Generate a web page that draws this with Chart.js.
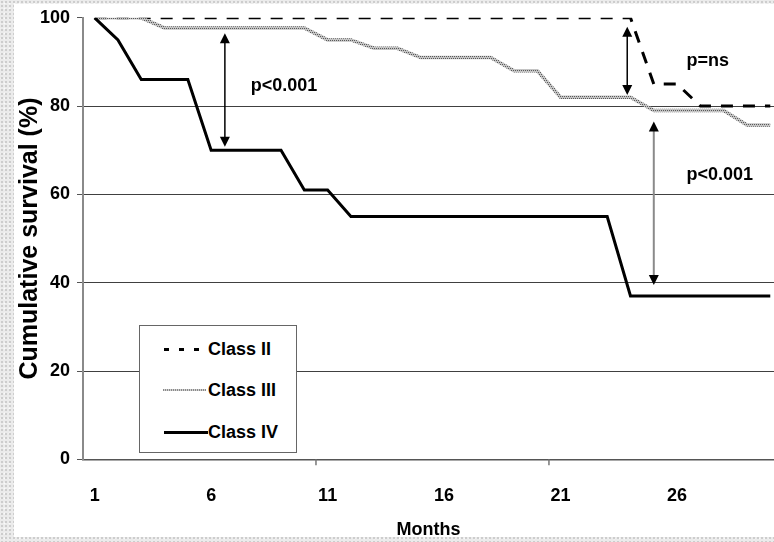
<!DOCTYPE html>
<html><head><meta charset="utf-8">
<script src="https://cdn.jsdelivr.net/npm/chart.js@4"></script>
<style>
html,body{margin:0;padding:0;width:774px;height:542px;overflow:hidden;}
body{background-color:#ebebeb;background-image:radial-gradient(#cdcdcd 0.8px, transparent 1.1px),radial-gradient(#fafafa 0.8px, transparent 1.1px);background-size:4px 4px,5px 5px;background-position:0 0,2px 1px;}
#wrap{position:relative;width:774px;height:542px;}
#chart{position:absolute;left:0;top:0;}
#legend{position:absolute;left:139px;top:325px;width:158px;height:128px;border:1px solid #666;background:#fff;box-sizing:border-box;font:bold 18px "Liberation Sans",Arial,sans-serif;color:#000;}
.sample{position:absolute;}
.label{position:absolute;left:68px;white-space:nowrap;line-height:20px;height:20px;}
</style></head>
<body>
<div id="wrap">
<canvas id="chart" width="774" height="542"></canvas>
<div id="legend"></div>
</div>
<script>
// ---- data ----
const months = [1,2,3,4,5,6,7,8,9,10,11,12,13,14,15,16,17,18,19,20,21,22,23,24,25,26,27,28,29,30];
const classII  = [100,100,100,100,100,100,100,100,100,100,100,100,100,100,100,100,100,100,100,100,100,100,100,100,85,85,80,80,80,80];
const classIII = [100,100,100,97.7,97.7,97.7,97.7,97.7,97.7,97.7,95,95,93.1,93.1,91,91,91,91,88,88,82,82,82,82,79,79,79,79,75.7,75.7];
const classIV  = [100,95,86,86,86,70,70,70,70,61,61,55,55,55,55,55,55,55,55,55,55,55,55,37,37,37,37,37,37,37];
const seriesNames = ['Class II','Class III','Class IV'];
const xTickLabels = [1,6,11,16,21,26];
const yTickValues = [0,20,40,60,80,100];
// annotations (data units)
const arrowMonths = [6.59, 23.86, 25.0];
const arrowFrom   = [96.5, 98.0, 76.5];
const arrowTo     = [70.8, 82.5, 39.5];
const noteTexts   = ['p<0.001','p=ns','p<0.001'];
const noteMonths  = [7.7, 26.4, 26.4];
const noteValues  = [84.6, 90.1, 64.4];

const FONT = '"Liberation Sans", Arial, sans-serif';
Chart.defaults.font.family = FONT;
Chart.defaults.color = '#000';

// textured gray pattern for class III
function makePattern(){
  const p = document.createElement('canvas'); p.width = 4; p.height = 4;
  const c = p.getContext('2d');
  c.fillStyle = '#c4c4c4'; c.fillRect(0,0,4,4);
  c.fillStyle = '#5a5a5a';
  c.fillRect(0,0,1,1); c.fillRect(2,0,1,1); c.fillRect(1,2,1,1); c.fillRect(3,2,1,1);
  return document.getElementById('chart').getContext('2d').createPattern(p,'repeat');
}
const pat = makePattern();

const toXY = arr => months.map((m,i)=>({x:m, y:arr[i]}));

const annot = {
  id:'annot',
  beforeDraw(chart){
    const c = chart.ctx; c.save(); c.fillStyle = '#fff'; c.fillRect(14,4,760,533); c.restore();
  },
  afterDraw(chart){
    const {ctx, scales:{x, y}} = chart;
    ctx.save();
    // x-axis tick marks every 10 categories (between categories)
    ctx.strokeStyle = '#777'; ctx.lineWidth = 1.5;
    [10.5, 20.5].forEach(v=>{
      const px = x.getPixelForValue(v);
      ctx.beginPath(); ctx.moveTo(px, y.bottom); ctx.lineTo(px, y.bottom+6); ctx.stroke();
    });
    // arrows
    arrowMonths.forEach((m,i)=>{
      const px = x.getPixelForValue(m);
      const y1 = y.getPixelForValue(arrowFrom[i]);
      const y2 = y.getPixelForValue(arrowTo[i]);
      const shaft = i===2 ? '#8a8a8a' : '#000';
      const head = 10, hw = 5;
      ctx.strokeStyle = shaft; ctx.lineWidth = i===2 ? 2 : 1.5;
      ctx.beginPath(); ctx.moveTo(px, y1+head-1); ctx.lineTo(px, y2-head+1); ctx.stroke();
      ctx.fillStyle = '#000';
      ctx.beginPath(); ctx.moveTo(px, y1); ctx.lineTo(px-hw, y1+head); ctx.lineTo(px+hw, y1+head); ctx.closePath(); ctx.fill();
      ctx.beginPath(); ctx.moveTo(px, y2); ctx.lineTo(px-hw, y2-head); ctx.lineTo(px+hw, y2-head); ctx.closePath(); ctx.fill();
    });
    // notes
    ctx.fillStyle = '#000'; ctx.font = 'bold 18px ' + FONT; ctx.textBaseline = 'middle'; ctx.textAlign = 'left';
    noteTexts.forEach((t,i)=>{
      ctx.fillText(t, x.getPixelForValue(noteMonths[i]), y.getPixelForValue(noteValues[i]));
    });
    ctx.restore();
  }
};

new Chart(document.getElementById('chart'), {
  type:'line',
  data:{
    datasets:[
      {label:seriesNames[0], data:toXY(classII), borderColor:'#000', borderWidth:3, borderDash:[12,10], order:2},
      {label:seriesNames[1], data:toXY(classIII), borderColor:pat, borderWidth:3.5, order:1},
      {label:seriesNames[2], data:toXY(classIV), borderColor:'#000', borderWidth:3, order:0}
    ]
  },
  options:{
    responsive:false, animation:false, devicePixelRatio:1,
    layout:{padding:{top:17.7, left:0, right:0, bottom:0}},
    elements:{point:{radius:0, hoverRadius:0}, line:{tension:0, borderCapStyle:'butt', borderJoinStyle:'miter'}},
    plugins:{legend:{display:false}, tooltip:{enabled:false}},
    events:[],
    scales:{
      x:{
        type:'linear', min:0.5, max:30.16,
        afterFit(s){ s.height = 82.7; },
        afterBuildTicks(s){ s.ticks = xTickLabels.map(v=>({value:v})); },
        grid:{display:true, drawOnChartArea:false, drawTicks:false},
        border:{display:true, color:'#555', width:1.5},
        ticks:{autoSkip:false, maxRotation:0, padding:26, font:{size:18, weight:'bold'}, color:'#000'},
        title:{display:true, text:'Months', font:{size:18, weight:'bold'}, color:'#000', padding:{top:0, bottom:1}}
      },
      y:{
        min:0, max:100,
        afterFit(s){ s.width = 83; },
        afterBuildTicks(s){ s.ticks = yTickValues.map(v=>({value:v})); },
        grid:{color:ctx => (ctx.tick && ctx.tick.value===100) ? 'rgba(0,0,0,0)' : '#404040', lineWidth:1, tickLength:6, tickColor:'#555'},
        border:{display:true, color:'#8a8a8a', width:2},
        ticks:{padding:7, font:{size:18, weight:'bold'}, color:'#000'},
        title:{display:true, text:'Cumulative survival (%)', font:{size:25, weight:'bold'}, color:'#000', padding:{top:15, bottom:0}}
      }
    }
  },
  plugins:[annot]
});

// legend (HTML, real text)
(function(){
  const lg = document.getElementById('legend');
  const rowsY = [23, 64, 106];
  const samples = [
    'left:24px;width:36px;height:3px;background:repeating-linear-gradient(90deg,#000 0 5px,transparent 5px 15px);',
    'left:23px;width:43px;height:2px;background:repeating-linear-gradient(90deg,#8a8a8a 0 1px,#d0d0d0 1px 2px);',
    'left:24px;width:44px;height:3px;background:#000;'
  ];
  seriesNames.forEach((n,i)=>{
    const s = document.createElement('div'); s.className='sample';
    s.style.cssText = samples[i] + 'top:' + (rowsY[i]-1.5) + 'px;';
    lg.appendChild(s);
    const t = document.createElement('div'); t.className='label';
    t.style.top = (rowsY[i]-10) + 'px'; t.textContent = n;
    lg.appendChild(t);
  });
})();
</script>
</body></html>
